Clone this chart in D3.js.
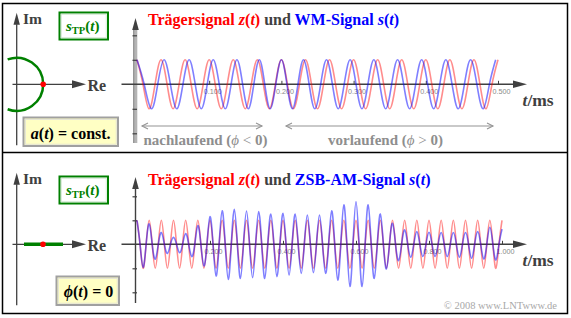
<!DOCTYPE html>
<html><head><meta charset="utf-8">
<script src="https://cdn.jsdelivr.net/npm/d3@7"></script>
<style>
body{margin:0;background:#fff}
svg{display:block}
</style></head><body>
<svg id="c" width="571" height="318"></svg>
<script>
// ---------------- data ----------------
const carrierKHz = 30;                       // carrier frequency (kHz) -> half period 1/60 ms
const topTickValues = [0.1, 0.2, 0.3, 0.4, 0.5];
const topTickLabels = ["0.100", "0.200", "0.300", "0.400", "0.500"];
const bottomTickValues = [0.2, 0.4, 0.6, 0.8, 1.0];
const bottomTickLabels = ["0.200", "0.400", "0.600", "0.800", "1.000"];
const yTickValues = [2, 1, -1, -2];
// carrier extremes z(t), one per half period (top: 0..0.5 ms)
const topCarrier = [1,-1,1,-1,1,-1,1,-1,1,-1,1,-1,1,-1,1,-1,1,-1,1,-1,1,-1,1,-1,1,-1,1,-1,1,-1,1];
// phase of the WM signal (degrees) at each carrier half period
const topPhaseDeg = [0,-35,-45,-55,-60,-62,-60,-60,-55,-45,-30,-12,0,15,30,40,45,50,52,55,57,60,62,62,62,62,60,55,50,42,35];
// carrier extremes (bottom: 0..1 ms)
const bottomCarrier = [1,-1,1,-1,1,-1,1,-1,1,-1,1,-1,1,-1,1,-1,1,-1,1,-1,1,-1,1,-1,1,-1,1,-1,1,-1,
                       1,-1,1,-1,1,-1,1,-1,1,-1,1,-1,1,-1,1,-1,1,-1,1,-1,1,-1,1,-1,1,-1,1,-1,1,-1,1];
// ZSB-AM signal extremes at each carrier half period
const bottomAM = [1.0,-0.96,0.85,-0.62,0.49,-0.38,0.29,-0.35,0.45,-0.51,0.78,-0.9,1.15,-1.32,1.40,-1.46,
                  1.46,-1.42,1.39,-1.39,1.36,-1.42,1.26,-1.35,1.29,-1.28,1.26,-1.21,1.22,-1.18,1.22,-1.21,
                  1.39,-1.49,1.64,-1.76,1.78,-1.76,1.64,-1.42,1.26,-1.03,0.875,-0.68,0.6,-0.54,0.53,-0.51,
                  0.5,-0.51,0.49,-0.51,0.49,-0.54,0.49,-0.58,0.53,-0.61,0.71,-0.65,0.63];

// ---------------- setup ----------------
const svg = d3.select("#c");
const SERIF = "'Liberation Serif','Times New Roman',serif";
const DARK = "#404040";
const halfPeriod = 1 / (2 * carrierKHz); // ms

// frame
svg.append("rect").attr("x", 2.5).attr("y", 3.5).attr("width", 565).attr("height", 310)
  .attr("fill", "none").attr("stroke", "#000").attr("stroke-width", 1.5);
svg.append("line").attr("x1", 2).attr("x2", 568).attr("y1", 152.5).attr("y2", 152.5)
  .attr("stroke", "#000").attr("stroke-width", 1.5);

function arrowHead(g, tipX, tipY, dir, len, half, color) {
  let pts;
  if (dir === "up") pts = [[tipX, tipY], [tipX - half, tipY + len], [tipX + half, tipY + len]];
  else pts = [[tipX, tipY], [tipX - len, tipY - half], [tipX - len, tipY + half]];
  g.append("path").attr("d", d3.line()(pts) + "Z").attr("fill", color);
}

// ---------------- left phasor panels ----------------
function phasorPanel(cy, top) {
  const g = svg.append("g");
  const cx = 16.7;
  // Im axis
  g.append("line").attr("x1", cx).attr("x2", cx).attr("y1", cy - 60).attr("y2", cy + 61)
    .attr("stroke", DARK).attr("stroke-width", 1.3);
  arrowHead(g, cx, cy - 71.5, "up", 12, 3.2, DARK);
  g.append("text").attr("x", 23).attr("y", cy - 60.5).text("Im")
    .attr("font-family", SERIF).attr("font-weight", "bold").attr("font-size", 15.5).attr("fill", DARK);
  // Re axis
  g.append("line").attr("x1", 12.5).attr("x2", 74).attr("y1", cy).attr("y2", cy)
    .attr("stroke", DARK).attr("stroke-width", 1.3);
  arrowHead(g, 86, cy, "right", 14, 4, DARK);
  g.append("text").attr("x", 87.5).attr("y", cy + 6.3).text("Re")
    .attr("font-family", SERIF).attr("font-weight", "bold").attr("font-size", 16).attr("fill", DARK);
  return g;
}

const gp1 = phasorPanel(84.3, true);
{
  const cx = 16.7, cy = 84.3, r = 26.5, a = 110 * Math.PI / 180;
  const p = d3.path();
  p.arc(cx, cy, r, -a, a, false);
  gp1.append("path").attr("d", p.toString()).attr("fill", "none")
    .attr("stroke", "#008000").attr("stroke-width", 2.5);
  gp1.append("circle").attr("cx", cx + r).attr("cy", cy).attr("r", 2.8).attr("fill", "#ff0000");
}
const gp2 = phasorPanel(244.3, false);
gp2.append("line").attr("x1", 24).attr("x2", 63).attr("y1", 244.3).attr("y2", 244.3)
  .attr("stroke", "#008000").attr("stroke-width", 3.6);
gp2.append("circle").attr("cx", 43).attr("cy", 244.3).attr("r", 2.8).attr("fill", "#ff0000");

function sTPBox(y) {
  svg.append("rect").attr("x", 59.5).attr("y", y).attr("width", 48.5).attr("height", 27)
    .attr("fill", "#fff").attr("stroke", "#008000").attr("stroke-width", 2);
  svg.append("rect").attr("x", 61.3).attr("y", y + 1.8).attr("width", 44.9).attr("height", 23.4)
    .attr("fill", "none").attr("stroke", "#cfe6cf").attr("stroke-width", 0.8);
  const t = svg.append("text").attr("x", 66).attr("y", y + 18)
    .attr("font-family", SERIF).attr("font-weight", "bold").attr("font-size", 15).attr("fill", "#008000");
  t.append("tspan").attr("font-style", "italic").text("s");
  t.append("tspan").attr("font-size", 10.5).attr("dy", 3).text("TP");
  t.append("tspan").attr("dy", -3).text("(");
  t.append("tspan").attr("font-style", "italic").text("t");
  t.append("tspan").text(")");
}
sTPBox(12.5);
sTPBox(176.5);

function yellowBox(x, y, w, h) {
  svg.append("rect").attr("x", x).attr("y", y).attr("width", w).attr("height", h)
    .attr("fill", "#ffffc4").attr("stroke", "#a0a0a0").attr("stroke-width", 2);
  svg.append("rect").attr("x", x + 1.8).attr("y", y + 1.8).attr("width", w - 3.6).attr("height", h - 3.6)
    .attr("fill", "none").attr("stroke", "#dcdcdc").attr("stroke-width", 0.8);
}
yellowBox(23.5, 117.5, 94.5, 28.5);
{
  const t = svg.append("text").attr("x", 70.7).attr("y", 138.5).attr("text-anchor", "middle")
    .attr("font-family", SERIF).attr("font-weight", "bold").attr("font-size", 16).attr("fill", "#000");
  t.append("tspan").attr("font-style", "italic").text("a");
  t.append("tspan").text("(");
  t.append("tspan").attr("font-style", "italic").text("t");
  t.append("tspan").text(") = const.");
}
yellowBox(56.5, 276.5, 62.5, 28.5);
{
  const t = svg.append("text").attr("x", 88.5).attr("y", 297).attr("text-anchor", "middle")
    .attr("font-family", SERIF).attr("font-weight", "bold").attr("font-size", 16).attr("fill", "#000");
  t.append("tspan").attr("font-style", "italic").text("ϕ");
  t.append("tspan").text("(");
  t.append("tspan").attr("font-style", "italic").text("t");
  t.append("tspan").text(") = 0");
}

// ---------------- charts ----------------
function title(y, second) {
  const t = svg.append("text").attr("x", 148).attr("y", y)
    .attr("font-family", SERIF).attr("font-weight", "bold").attr("font-size", 16);
  t.append("tspan").attr("fill", "#ff0000").text("Trägersignal ");
  t.append("tspan").attr("fill", "#ff0000").attr("font-style", "italic").text("z");
  t.append("tspan").attr("fill", "#ff0000").text("(");
  t.append("tspan").attr("fill", "#ff0000").attr("font-style", "italic").text("t");
  t.append("tspan").attr("fill", "#ff0000").text(")");
  t.append("tspan").attr("fill", DARK).text(" und ");
  t.append("tspan").attr("fill", "#0000ff").text(second + " ");
  t.append("tspan").attr("fill", "#0000ff").attr("font-style", "italic").text("s");
  t.append("tspan").attr("fill", "#0000ff").text("(");
  t.append("tspan").attr("fill", "#0000ff").attr("font-style", "italic").text("t");
  t.append("tspan").attr("fill", "#0000ff").text(")");
}

function chartAxes(x, y, tickVals, tickLabels, zeroY, topY, botY, thickY) {
  const g = svg.append("g");
  const ax = x(0) - 1.5;
  // y axis
  if (thickY) {
    g.append("rect").attr("x", ax - 1.8).attr("y", topY + 12).attr("width", 3.6).attr("height", botY - topY - 12)
      .attr("fill", "#b4b4b4");
    g.append("line").attr("x1", ax - 1.8).attr("x2", ax - 1.8).attr("y1", topY + 12).attr("y2", botY)
      .attr("stroke", "#6a6a6a").attr("stroke-width", 0.8);
  } else {
    g.append("line").attr("x1", ax).attr("x2", ax).attr("y1", topY + 12).attr("y2", botY)
      .attr("stroke", DARK).attr("stroke-width", 1.4);
  }
  arrowHead(g, ax, topY, "up", 12, 3.3, DARK);
  const ya = g.append("g").attr("transform", `translate(${ax + 1.5},0)`)
    .call(d3.axisLeft(y).tickValues(yTickValues).tickSize(4.5).tickFormat(""));
  ya.select(".domain").remove();
  ya.selectAll(".tick line").attr("stroke", DARK).attr("stroke-width", 1.2);
  // x axis
  g.append("line").attr("x1", 121.5).attr("x2", 514).attr("y1", zeroY).attr("y2", zeroY)
    .attr("stroke", DARK).attr("stroke-width", 1.5);
  arrowHead(g, 527, zeroY, "right", 14, 3.8, DARK);
  const xa = g.append("g").attr("transform", `translate(0,${zeroY})`)
    .call(d3.axisBottom(x).tickValues(tickVals).tickSize(-3.5).tickPadding(5)
      .tickFormat((d, i) => tickLabels[i]));
  xa.select(".domain").remove();
  xa.selectAll(".tick line").attr("stroke", DARK).attr("stroke-width", 1);
  xa.selectAll(".tick text").attr("font-family", "'Liberation Sans',Arial,sans-serif")
    .attr("font-size", 7.2).attr("fill", "#8a8a8a").attr("dx", 3);
  // t/ms
  const t = svg.append("text").attr("x", 522.5).attr("y", zeroY + 21.7)
    .attr("font-family", SERIF).attr("font-weight", "bold").attr("font-size", 17.5).attr("fill", DARK);
  t.append("tspan").attr("font-style", "italic").text("t");
  t.append("tspan").text("/ms");
}

function extremesWithZeros(times, values) {
  const pts = [];
  for (let i = 0; i < times.length; i++) {
    pts.push({ t: times[i], v: values[i] });
    if (i < times.length - 1) pts.push({ t: (times[i] + times[i + 1]) / 2, v: 0 });
  }
  return pts;
}

function drawSignal(x, y, pts, color, opacity) {
  const line = d3.line().x(d => x(d.t)).y(d => y(d.v)).curve(d3.curveNatural);
  svg.append("path").attr("d", line(pts)).attr("fill", "none")
    .attr("stroke", color).attr("stroke-opacity", opacity).attr("stroke-width", 1.6);
}

// ---- top chart (WM) ----
const xTop = d3.scaleLinear().domain([0, 0.5]).range([137, 498]);
const yTop = d3.scaleLinear().domain([-1, 1]).range([108.8, 59.8]);
title(25, "WM-Signal");
chartAxes(xTop, yTop, topTickValues, topTickLabels, 84.3, 18, 143, true);
{
  const tRed = topCarrier.map((v, k) => k * halfPeriod);
  const tBlue = topCarrier.map((v, k) => k * halfPeriod - topPhaseDeg[k] / (360 * carrierKHz));
  drawSignal(xTop, yTop, extremesWithZeros(tRed, topCarrier), "#ff0000", 0.45);
  drawSignal(xTop, yTop, extremesWithZeros(tBlue, topCarrier), "#0000ff", 0.5);
}
// annotations
function dblArrow(x1, x2, y) {
  const c = "#949494";
  svg.append("line").attr("x1", x1).attr("x2", x2).attr("y1", y).attr("y2", y)
    .attr("stroke", c).attr("stroke-width", 1.1);
  svg.append("path").attr("d", d3.line()([[x1 + 6, y - 3], [x1, y], [x1 + 6, y + 3]]))
    .attr("fill", "none").attr("stroke", c).attr("stroke-width", 1.1);
  svg.append("path").attr("d", d3.line()([[x2 - 6, y - 3], [x2, y], [x2 + 0, y], [x2 - 6, y + 3]]))
    .attr("fill", "none").attr("stroke", c).attr("stroke-width", 1.1);
}
dblArrow(142, 262, 126);
dblArrow(286, 493, 126);
function annot(x, label, rel) {
  const t = svg.append("text").attr("x", x).attr("y", 145).attr("text-anchor", "middle")
    .attr("font-family", SERIF).attr("font-weight", "bold").attr("font-size", 15).attr("fill", "#8e8e8e");
  t.append("tspan").text(label + " (");
  t.append("tspan").attr("font-style", "italic").attr("font-weight", "normal").text("ϕ");
  t.append("tspan").attr("font-weight", "normal").text(" " + rel + " ");
  t.append("tspan").text("0)");
}
annot(205.5, "nachlaufend", "<");
annot(385.5, "vorlaufend", ">");

// ---- bottom chart (ZSB-AM) ----
const xBot = d3.scaleLinear().domain([0, 1]).range([137, 502]);
const yBot = d3.scaleLinear().domain([-1, 1]).range([268.3, 220.3]);
title(185, "ZSB-AM-Signal");
chartAxes(xBot, yBot, bottomTickValues, bottomTickLabels, 244.3, 177, 303, false);
{
  const tk = bottomCarrier.map((v, k) => k * halfPeriod);
  drawSignal(xBot, yBot, extremesWithZeros(tk, bottomCarrier), "#ff0000", 0.45);
  drawSignal(xBot, yBot, extremesWithZeros(tk, bottomAM), "#0000ff", 0.5);
}

// copyright
svg.append("text").attr("x", 557).attr("y", 308.5).attr("text-anchor", "end")
  .attr("font-family", SERIF).attr("font-size", 10.5).attr("fill", "#a8a8a8")
  .text("© 2008 www.LNTwww.de");
</script>
</body></html>
